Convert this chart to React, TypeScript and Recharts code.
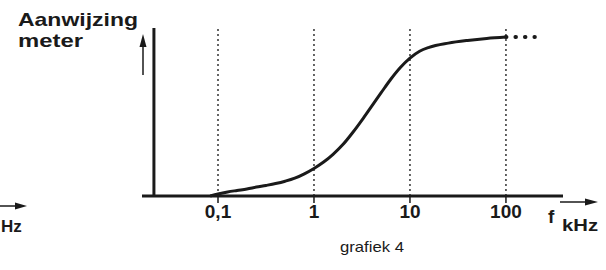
import React from "react";
import { LineChart, Line, XAxis, YAxis, ReferenceLine } from "recharts";

// frequency in kHz (log axis) and meter reading (0..100 of plot height)
const freqs = [
  0.083, 0.1, 0.126, 0.158, 0.2, 0.251, 0.316, 0.398, 0.501, 0.631, 0.794, 1,
  1.26, 1.58, 2, 2.51, 3.16, 3.98, 5.01, 6.31, 7.94, 10, 12.6, 15.8, 25.1, 39.8, 63.1, 100, 200,
];
const reading = [
  0, 1.2, 2.4, 3.3, 4.2, 5.3, 6.3, 7.4, 8.8, 10.6, 13.2, 16.4,
  20.2, 24.8, 30.6, 37.5, 45.2, 53.4, 61.5, 69.5, 76.5, 82.1, 86.2, 88.5, 91, 92.6, 93.8, 94.6, null,
];
const extension = [
  null, null, null, null, null, null, null, null, null, null, null, null,
  null, null, null, null, null, null, null, null, null, null, null, null, null, null, null, 94.6, 94.6,
];
const tickValues = [0.1, 1, 10, 100];
const yAxisAt = 0.0215;

const data = freqs.map((f, i) => ({ f, reading: reading[i], ext: extension[i] }));

const font = "'Liberation Sans', Arial, sans-serif";
const ink = "#1a1a1a";

export default function App() {
  return (
    <div style={{ position: "absolute", left: 0, top: 0, width: 606, height: 270, background: "#fff" }}>
      <LineChart
        width={606}
        height={270}
        data={data}
        margin={{ top: 28, right: 43, bottom: 44, left: 142 }}
      >
        <YAxis hide type="number" domain={[0, 100]} />
        <XAxis
          dataKey="f"
          type="number"
          scale="log"
          domain={[0.01615, 393]}
          allowDataOverflow
          ticks={tickValues}
          tickFormatter={(v: number) => String(v).replace(".", ",")}
          height={30}
          tickSize={7}
          axisLine={{ stroke: ink, strokeWidth: 3 }}
          tickLine={{ stroke: ink, strokeWidth: 1.5 }}
          tick={{ fill: ink, fontSize: 19, fontWeight: 700, fontFamily: font }}
        />
        {tickValues.map((t) => (
          <ReferenceLine key={t} x={t} stroke="#333" strokeWidth={1.5} strokeDasharray="2 3" />
        ))}
        <ReferenceLine x={yAxisAt} stroke={ink} strokeWidth={3} />
        <Line
          dataKey="reading"
          type="monotone"
          stroke={ink}
          strokeWidth={3}
          dot={false}
          isAnimationActive={false}
        />
        <Line
          dataKey="ext"
          stroke={ink}
          strokeWidth={4}
          strokeLinecap="round"
          strokeDasharray="0.5 9"
          dot={false}
          isAnimationActive={false}
        />
      </LineChart>
      <svg width={606} height={270} style={{ position: "absolute", left: 0, top: 0, pointerEvents: "none" }}>
        <text x={18} y={26} fontFamily={font} fontWeight={700} fontSize={19} fill={ink} textLength={120} lengthAdjust="spacingAndGlyphs">
          Aanwijzing
        </text>
        <text x={18} y={47} fontFamily={font} fontWeight={700} fontSize={19} fill={ink} textLength={65} lengthAdjust="spacingAndGlyphs">
          meter
        </text>
        {/* up arrow */}
        <line x1={143} y1={75} x2={143} y2={42} stroke={ink} strokeWidth={1.5} />
        <polygon points="143,34 139.5,47 146.5,47" fill={ink} />
        {/* right arrow at f axis */}
        <line x1={560} y1={202} x2={590} y2={202} stroke={ink} strokeWidth={1.5} />
        <polygon points="598,202 585,198.5 585,205.5" fill={ink} />
        <text x={548} y={223} fontFamily={font} fontWeight={700} fontSize={19} fill={ink}>f</text>
        <text x={562} y={231} fontFamily={font} fontWeight={700} fontSize={17} fill={ink} textLength={36} lengthAdjust="spacingAndGlyphs">kHz</text>
        {/* cut-off part of neighbouring graph */}
        <line x1={0} y1={206} x2={20} y2={206} stroke={ink} strokeWidth={1.5} />
        <polygon points="27,206 15,202.5 15,209.5" fill={ink} />
        <text x={1} y={232} fontFamily={font} fontWeight={700} fontSize={17} fill={ink}>Hz</text>
        <text x={340} y={252} fontFamily={font} fontSize={15} fill={ink} textLength={64} lengthAdjust="spacingAndGlyphs">grafiek 4</text>
      </svg>
    </div>
  );
}
